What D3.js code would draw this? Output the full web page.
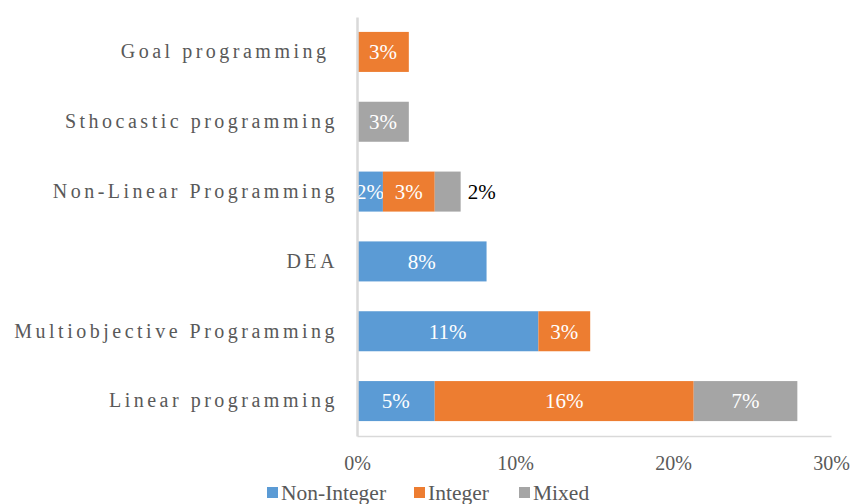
<!DOCTYPE html>
<html>
<head>
<meta charset="utf-8">
<script src="https://cdn.jsdelivr.net/npm/d3@7"></script>
<style>
  body { margin: 0; background: #fff; }
  svg text { font-family: 'Liberation Serif', Tinos, 'Times New Roman', serif !important; }
</style>
</head>
<body>
<script>
// categories, top to bottom
const categories = ['Goal programming ', 'Sthocastic programming', 'Non-Linear Programming',
  'DEA', 'Multiobjective Programming', 'Linear programming'];
const seriesNames = ['Non-Integer', 'Integer', 'Mixed'];
// percent values per series (same order as categories)
const nonInteger = [0, 0, 1.64, 8.2, 11.48, 4.92];
const integer = [3.28, 0, 3.28, 0, 3.28, 16.39];
const mixed = [0, 3.28, 1.64, 0, 0, 6.56];
const xTicks = [0, 10, 20, 30];
const colors = ['#5B9BD5', '#ED7D31', '#A5A5A5'];

const width = 854, height = 504;
const margin = { top: 17, right: 23, bottom: 68, left: 357 };

const svg = d3.select('body').append('svg')
  .attr('width', width)
  .attr('height', height);

const rows = categories.map((c, i) => ({
  category: c, 'Non-Integer': nonInteger[i], 'Integer': integer[i], 'Mixed': mixed[i]
}));
const stacked = d3.stack().keys(seriesNames)(rows);

const x = d3.scaleLinear()
  .domain([0, 30])
  .range([margin.left, width - margin.right]);

const y = d3.scaleBand()
  .domain(categories)
  .range([margin.top, height - margin.bottom])
  .paddingInner(0.427)
  .paddingOuter(0.2135);

// bars
const layers = svg.append('g').selectAll('g')
  .data(stacked)
  .join('g')
  .attr('fill', (d, i) => colors[i]);

layers.selectAll('rect')
  .data(d => d.map(p => ({ p, key: d.key })))
  .join('rect')
  .attr('x', d => x(d.p[0]))
  .attr('y', d => y(d.p.data.category))
  .attr('width', d => x(d.p[1]) - x(d.p[0]))
  .attr('height', y.bandwidth());

// data labels (the thin Mixed slice gets its label outside, in black)
const outside = d => d.key === 'Mixed' && x(d.p[1]) - x(d.p[0]) < 30;
layers.selectAll('text')
  .data(d => d.map(p => ({ p, key: d.key })).filter(d => d.p[1] - d.p[0] > 0))
  .join('text')
  .attr('x', d => outside(d) ? x(d.p[1]) + 21 : (x(d.p[0]) + x(d.p[1])) / 2)
  .attr('y', d => y(d.p.data.category) + y.bandwidth() / 2)
  .attr('dy', '0.35em')
  .attr('text-anchor', 'middle')
  .attr('font-size', 21)
  .attr('fill', d => outside(d) ? '#000' : '#fff')
  .text(d => Math.round(d.p[1] - d.p[0]) + '%');

// axes
const xAxis = svg.append('g')
  .attr('transform', `translate(0,${height - margin.bottom})`)
  .call(d3.axisBottom(x).tickValues(xTicks).tickSize(0).tickPadding(20).tickFormat(d => d + '%'));
xAxis.attr('font-family', null).attr('font-size', 20);
xAxis.select('.domain').attr('stroke', '#D9D9D9').attr('stroke-width', 1.5);
xAxis.selectAll('text').attr('fill', '#595959');

const yAxis = svg.append('g')
  .attr('transform', `translate(${margin.left},0)`)
  .call(d3.axisLeft(y).tickSize(0).tickPadding(19));
yAxis.attr('font-family', null).attr('font-size', 20);
yAxis.select('.domain').attr('stroke', '#D9D9D9').attr('stroke-width', 2.5);
yAxis.selectAll('text').attr('fill', '#595959')
  .attr('letter-spacing', 3.5).style('white-space', 'pre');

// legend
const legendX = [267, 414, 519];
const legend = svg.append('g').selectAll('g')
  .data(seriesNames)
  .join('g')
  .attr('transform', (d, i) => `translate(${legendX[i]},${height - 12})`);
legend.append('rect')
  .attr('x', 0).attr('y', -5).attr('width', 11).attr('height', 11)
  .attr('fill', (d, i) => colors[i]);
legend.append('text')
  .attr('x', 14).attr('dy', '0.35em')
  .attr('font-size', 21.5)
  .attr('fill', '#595959')
  .text(d => d);
</script>
</body>
</html>
